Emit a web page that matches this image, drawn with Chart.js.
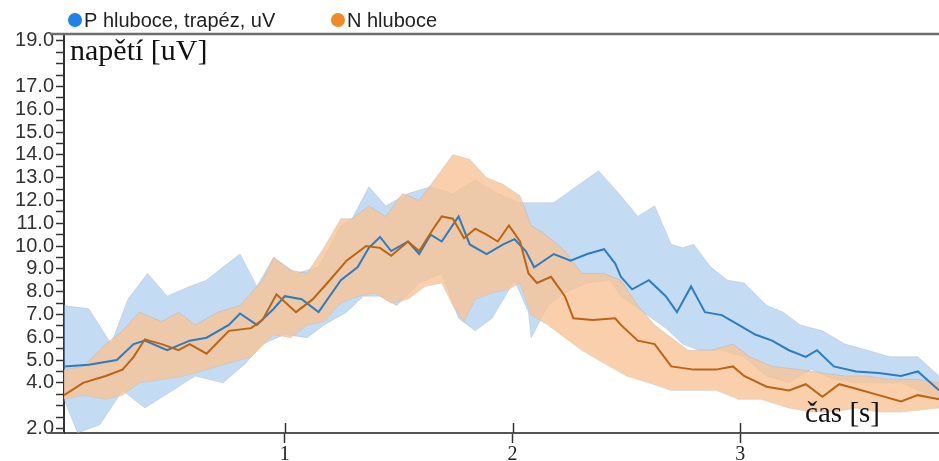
<!DOCTYPE html>
<html>
<head>
<meta charset="utf-8">
<script src="https://cdn.jsdelivr.net/npm/chart.js@4/dist/chart.umd.min.js"></script>
<style>
  html, body { margin: 0; padding: 0; background: #fff; }
  #wrap { width: 939px; height: 461px; }
</style>
</head>
<body>
<div id="wrap"><canvas id="c" width="939" height="461"></canvas></div>
<script>
// series labels + axis titles
const seriesNames = ['P hluboce, trapéz, uV', 'N hluboce'];
const yTitle = 'napětí [uV]';
const xTitle = 'čas [s]';
const xTicks = [1, 2, 3];
const yLabelled = [2, 4, 5, 6, 7, 8, 9, 10, 11, 12, 13, 14, 15, 16, 17, 19];

// P (blue) mean line
const pT = [0.03,0.139,0.262,0.336,0.385,0.483,0.582,0.656,0.754,0.803,0.877,0.951,1.0,1.074,1.148,1.246,1.320,1.369,1.418,1.467,1.541,1.590,1.640,1.689,1.763,1.812,1.886,1.959,2.009,2.058,2.095,2.181,2.255,2.328,2.402,2.451,2.476,2.525,2.599,2.673,2.722,2.784,2.845,2.919,2.993,3.066,3.140,3.214,3.288,3.337,3.411,3.509,3.608,3.706,3.780,3.873];
const pMean = [4.72,4.79,5.0,5.7,5.85,5.43,5.85,5.98,6.54,7.04,6.54,7.25,7.8,7.67,7.1,8.5,9.08,9.92,10.4,9.78,10.2,9.65,10.5,10.2,11.3,10.07,9.65,10.07,10.3,9.78,9.07,9.65,9.36,9.65,9.86,9.23,8.65,8.1,8.5,7.8,7.1,8.23,7.1,6.97,6.54,6.12,5.85,5.43,5.14,5.43,4.72,4.5,4.43,4.3,4.5,3.67];

// P band
const pHiT = [0.03,0.139,0.237,0.311,0.397,0.483,0.582,0.656,0.729,0.803,0.877,0.951,1.049,1.148,1.246,1.295,1.369,1.443,1.541,1.640,1.738,1.836,1.935,2.033,2.107,2.181,2.279,2.378,2.476,2.550,2.624,2.697,2.747,2.796,2.870,2.944,3.017,3.116,3.189,3.263,3.361,3.460,3.558,3.657,3.780,3.873];
const pHi = [7.39,7.25,5.7,7.67,8.8,7.8,8.23,8.5,9.08,9.65,8.23,9.5,8.8,9.08,10.9,11.2,12.6,11.76,12.3,12.6,12.3,12.9,12.3,11.9,11.9,11.9,12.6,13.3,12.2,11.3,11.76,10.07,9.92,10.07,9.08,8.5,8.38,7.39,7.1,6.54,6.28,5.7,5.43,5.14,5.14,4.3];
const pLoT = [0.03,0.09,0.188,0.287,0.385,0.508,0.606,0.729,0.828,0.902,1.0,1.098,1.172,1.271,1.344,1.418,1.492,1.590,1.689,1.763,1.836,1.910,2.009,2.070,2.082,2.156,2.230,2.328,2.427,2.476,2.574,2.673,2.747,2.821,2.919,3.017,3.116,3.214,3.312,3.411,3.509,3.608,3.706,3.873];
const pLo = [3.28,1.8,2.17,3.67,2.9,3.67,4.3,4.0,4.86,5.7,6.12,5.98,6.54,7.1,7.8,7.8,7.39,8.38,8.8,6.83,6.28,6.83,8.5,7.1,5.98,7.39,7.95,8.38,8.5,7.8,7.1,6.4,5.7,5.43,5.43,5.14,4.3,4.0,4.58,4.15,4.0,4.0,4.0,3.28];

// N (orange) mean line
const nT = [0.03,0.114,0.213,0.287,0.336,0.385,0.459,0.533,0.582,0.656,0.754,0.852,0.902,0.963,1.049,1.123,1.197,1.271,1.357,1.418,1.467,1.541,1.590,1.652,1.689,1.738,1.787,1.836,1.886,1.935,1.984,2.033,2.070,2.107,2.169,2.230,2.267,2.353,2.451,2.476,2.550,2.624,2.697,2.796,2.894,2.968,3.017,3.116,3.214,3.288,3.361,3.435,3.509,3.608,3.706,3.780,3.873];
const nMean = [3.46,4.0,4.3,4.58,5.14,5.91,5.7,5.43,5.7,5.28,6.28,6.4,6.76,7.88,7.1,7.67,8.5,9.36,10.0,9.92,9.57,10.2,9.78,10.76,11.3,11.2,10.34,10.76,10.5,10.2,10.9,10.2,8.8,8.38,8.65,7.8,6.83,6.76,6.83,6.54,5.85,5.7,4.72,4.58,4.58,4.72,4.3,3.83,3.67,3.94,3.39,3.94,3.74,3.46,3.18,3.46,3.28];

// N band
const nHiT = [0.03,0.114,0.213,0.287,0.360,0.459,0.533,0.606,0.705,0.803,0.902,0.951,1.025,1.098,1.172,1.246,1.295,1.369,1.443,1.517,1.590,1.664,1.738,1.812,1.886,1.959,2.033,2.082,2.132,2.181,2.230,2.304,2.402,2.476,2.550,2.624,2.697,2.771,2.870,2.968,3.042,3.140,3.263,3.361,3.460,3.558,3.657,3.780,3.873];
const nHi = [4.58,4.72,5.7,6.28,7.1,6.69,7.1,6.54,7.1,7.39,8.5,9.5,8.94,8.8,9.92,11.2,11.2,11.76,11.3,12.3,12.0,13.0,14.0,13.8,13.0,12.7,12.2,10.9,10.6,10.2,9.78,8.8,8.8,8.5,7.39,6.54,5.98,5.43,5.43,5.7,5.14,4.72,4.58,4.43,4.3,4.3,4.15,4.15,4.0];
const nLoT = [0.03,0.114,0.213,0.287,0.360,0.459,0.557,0.656,0.754,0.852,0.951,1.025,1.098,1.172,1.246,1.320,1.394,1.467,1.541,1.615,1.689,1.738,1.787,1.836,1.910,1.984,2.033,2.082,2.156,2.230,2.304,2.402,2.501,2.599,2.697,2.796,2.894,2.993,3.091,3.214,3.312,3.411,3.509,3.608,3.706,3.873];
const nLo = [3.28,3.46,3.28,3.46,4.0,4.15,4.3,4.58,4.86,5.14,6.12,5.98,6.54,6.69,7.5,7.8,7.95,7.5,7.67,8.23,8.38,7.39,6.69,7.67,7.95,8.1,8.38,6.97,6.54,5.98,5.43,4.86,4.3,4.0,3.67,3.67,3.67,3.28,3.28,2.9,2.72,2.72,2.9,2.72,2.72,2.9];

const xy = (ts, vs) => ts.map((t, i) => ({x: t, y: vs[i]}));

const blueLine = '#2b7cc0', blueDot = '#1e82e6', blueBand = 'rgba(130,182,232,0.48)';
const orangeLine = '#bb6414', orangeDot = '#f08a24', orangeBand = 'rgba(247,196,150,0.8)';
const edge = 'rgba(165,165,180,0.35)';

// frame lines, inner tick halves, axis titles inside plot, top legend
const decor = {
  id: 'decor',
  afterDraw(chart) {
    const ctx = chart.ctx, a = chart.chartArea, xs = chart.scales.x;
    ctx.save();
    ctx.strokeStyle = '#6e6e6e';
    ctx.lineWidth = 2.5;
    ctx.beginPath(); ctx.moveTo(50, a.top); ctx.lineTo(a.right, a.top); ctx.stroke();
    ctx.strokeStyle = '#555';
    ctx.lineWidth = 2;
    ctx.beginPath(); ctx.moveTo(48, a.bottom); ctx.lineTo(a.left, a.bottom); ctx.stroke();
    ctx.strokeStyle = '#333';
    ctx.lineWidth = 1.5;
    xTicks.forEach(v => {
      const px = Math.round(xs.getPixelForValue(v)) + 0.5;
      ctx.beginPath(); ctx.moveTo(px, a.bottom - 10); ctx.lineTo(px, a.bottom); ctx.stroke();
    });

    ctx.fillStyle = '#111';
    ctx.textBaseline = 'alphabetic';
    ctx.textAlign = 'left';
    ctx.font = '30px "Liberation Serif", "Times New Roman", serif';
    ctx.fillText(yTitle, a.left + 6, a.top + 26);
    ctx.textAlign = 'right';
    ctx.font = '29px "Liberation Serif", "Times New Roman", serif';
    ctx.fillText(xTitle, a.right - 59, a.bottom - 11);

    // legend
    const items = [[seriesNames[0], blueDot, 75], [seriesNames[1], orangeDot, 338]];
    ctx.font = '20px "Liberation Sans", Arial, sans-serif';
    ctx.textAlign = 'left';
    ctx.textBaseline = 'middle';
    items.forEach(([txt, col, cx]) => {
      ctx.fillStyle = col;
      ctx.beginPath(); ctx.arc(cx, 20, 7, 0, Math.PI * 2); ctx.fill();
      ctx.fillStyle = '#222';
      ctx.fillText(txt, cx + 9, 21);
    });
    ctx.restore();
  }
};

new Chart(document.getElementById('c'), {
  type: 'line',
  data: {
    datasets: [
      { label: seriesNames[1], data: xy(nT, nMean), borderColor: orangeLine, borderWidth: 2, fill: false },
      { label: seriesNames[0], data: xy(pT, pMean), borderColor: blueLine, borderWidth: 2, fill: false },
      { label: 'N hi', data: xy(nHiT, nHi), borderColor: edge, borderWidth: 1, backgroundColor: orangeBand, fill: '+1' },
      { label: 'N lo', data: xy(nLoT, nLo), borderColor: edge, borderWidth: 1, fill: false },
      { label: 'P hi', data: xy(pHiT, pHi), borderColor: edge, borderWidth: 1, backgroundColor: blueBand, fill: '+1' },
      { label: 'P lo', data: xy(pLoT, pLo), borderColor: edge, borderWidth: 1, fill: false }
    ]
  },
  options: {
    responsive: false,
    devicePixelRatio: 1,
    animation: false,
    elements: { point: { radius: 0 }, line: { tension: 0 } },
    layout: { padding: { top: 34, left: 0, right: 0, bottom: 0 } },
    plugins: { legend: { display: false }, tooltip: { enabled: false } },
    scales: {
      x: {
        type: 'linear',
        min: 0.03,
        max: 3.873,
        afterFit: s => { s.height = 28; },
        afterBuildTicks: s => { s.ticks = xTicks.map(v => ({value: v})); },
        border: { color: '#555', width: 2 },
        grid: { drawOnChartArea: false, tickLength: 10, tickColor: '#333', tickWidth: 1.5 },
        ticks: {
          padding: 0,
          color: '#222',
          maxRotation: 0,
          font: { family: '"Liberation Serif", "Times New Roman", serif', size: 20 },
          callback: v => String(v)
        }
      },
      y: {
        type: 'linear',
        min: 1.8,
        max: 19.3,
        afterFit: s => { s.width = 64; },
        afterBuildTicks: s => {
          const out = [];
          for (let v = 2; v <= 19; v += 0.5) out.push({value: v});
          s.ticks = out;
        },
        border: { color: '#333', width: 2 },
        grid: { drawOnChartArea: false, tickLength: 8, tickColor: '#333', tickWidth: 1.5 },
        ticks: {
          padding: 2,
          color: '#333',
          autoSkip: false,
          font: { family: '"Liberation Sans", Arial, sans-serif', size: 20 },
          callback: v => yLabelled.includes(v) ? v.toFixed(1) : ''
        }
      }
    }
  },
  plugins: [decor]
});
</script>
</body>
</html>
